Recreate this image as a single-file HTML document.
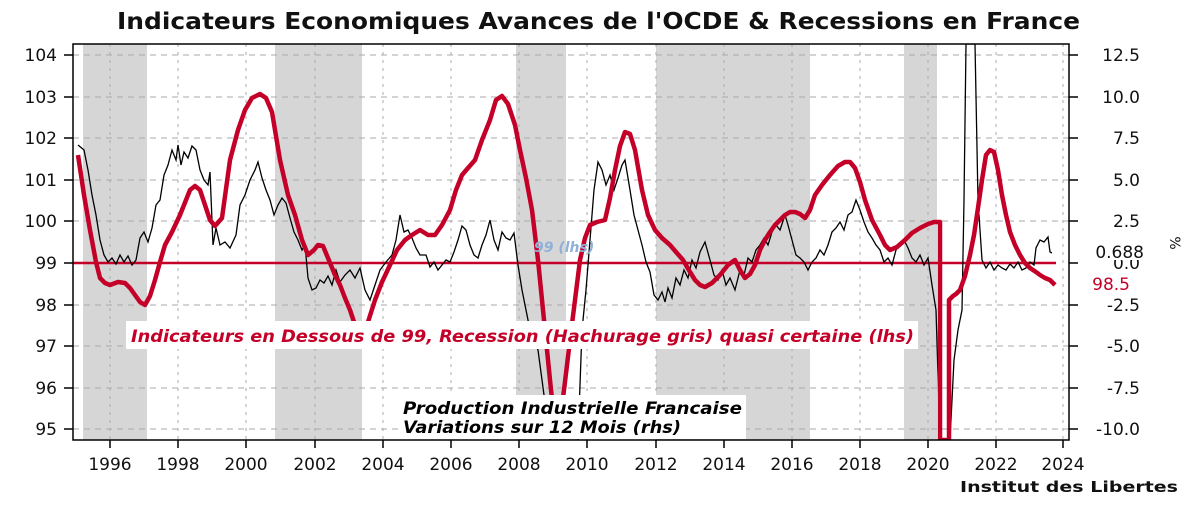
<!DOCTYPE html>
<html><head><meta charset="utf-8"><style>
html,body{margin:0;padding:0;background:#fff;}
svg{display:block;font-family:"DejaVu Sans","Liberation Sans",sans-serif;}
</style></head><body>
<svg width="1200" height="508" viewBox="0 0 1200 508" xmlns="http://www.w3.org/2000/svg">
<rect width="1200" height="508" fill="#fff"/>
<text x="117" y="29" textLength="963" lengthAdjust="spacingAndGlyphs" font-size="23" font-weight="bold" fill="#111">Indicateurs Economiques Avances de l'OCDE &amp; Recessions en France</text>
<!-- bands -->
<g fill="#d6d6d6">
<rect x="83" y="44" width="64" height="396"/>
<rect x="275" y="44" width="87" height="396"/>
<rect x="516" y="44" width="50" height="396"/>
<rect x="656" y="44" width="154" height="396"/>
<rect x="904" y="44" width="33" height="396"/>
</g>
<!-- grid -->
<g stroke="#aaa" stroke-width="1" stroke-dasharray="6,5">
<line x1="73" x2="1069" y1="55" y2="55"/><line x1="73" x2="1069" y1="97" y2="97"/>
<line x1="73" x2="1069" y1="138" y2="138"/><line x1="73" x2="1069" y1="180" y2="180"/>
<line x1="73" x2="1069" y1="221" y2="221"/><line x1="73" x2="1069" y1="305" y2="305"/>
<line x1="73" x2="1069" y1="346" y2="346"/><line x1="73" x2="1069" y1="388" y2="388"/>
<line x1="73" x2="1069" y1="429" y2="429"/>
</g>
<g stroke="#aaa" stroke-width="1" stroke-dasharray="3,5">
<line x1="110" x2="110" y1="44" y2="440"/><line x1="178" x2="178" y1="44" y2="440"/>
<line x1="246" x2="246" y1="44" y2="440"/><line x1="315" x2="315" y1="44" y2="440"/>
<line x1="383" x2="383" y1="44" y2="440"/><line x1="451" x2="451" y1="44" y2="440"/>
<line x1="519" x2="519" y1="44" y2="440"/><line x1="587" x2="587" y1="44" y2="440"/>
<line x1="656" x2="656" y1="44" y2="440"/><line x1="724" x2="724" y1="44" y2="440"/>
<line x1="792" x2="792" y1="44" y2="440"/><line x1="860" x2="860" y1="44" y2="440"/>
<line x1="928" x2="928" y1="44" y2="440"/><line x1="996" x2="996" y1="44" y2="440"/>
<line x1="1063" x2="1063" y1="44" y2="440"/>
</g>
<svg x="73" y="44" width="996" height="396" overflow="hidden"><g transform="translate(-73,-44)">
<polyline fill="none" stroke="#c40028" stroke-width="2.5" points="73,263 1056,263"/>
<polyline fill="none" stroke="#000" stroke-width="1.3" points="78,145 84,150 88,170 92,195 96,215 100,240 104,255 108,262 112,258 116,264 120,255 124,262 128,256 132,265 136,260 140,238 144,232 148,242 152,228 156,205 160,200 164,175 168,165 172,150 176,160 178,145 181,165 184,152 188,158 192,146 196,150 200,170 204,180 208,185 210,172 213,245 216,228 220,245 225,242 230,248 236,235 240,205 245,195 250,180 255,170 258,162 262,178 266,190 270,200 274,215 278,205 282,198 286,203 290,218 294,232 298,240 302,250 305,245 308,278 312,290 316,288 320,280 324,283 328,276 332,285 336,270 340,282 345,275 350,270 355,278 360,268 365,290 370,300 374,288 380,270 386,262 392,255 396,240 400,215 404,232 408,230 412,238 416,248 420,255 426,255 430,267 434,262 438,270 442,265 446,260 450,262 454,252 458,240 462,226 466,230 470,245 474,255 478,258 482,245 486,235 490,220 494,240 498,250 502,232 506,238 510,240 514,233 518,265 522,290 526,310 530,330 534,340 538,350 542,380 546,410 550,440 560,440 570,440 578,440 582,330 586,290 590,240 594,190 598,162 602,170 606,185 610,175 614,190 618,178 622,165 625,160 630,190 634,215 638,230 642,245 646,262 650,272 654,295 658,300 662,292 665,302 668,288 672,298 676,278 680,285 684,270 688,278 692,260 696,268 700,252 705,242 710,260 714,275 718,280 722,270 726,285 730,278 735,290 740,270 744,275 748,258 752,262 756,250 760,245 764,238 768,245 772,232 776,225 780,230 785,215 788,225 792,240 796,255 800,258 804,262 808,270 812,262 816,258 820,250 824,255 828,245 832,232 836,228 840,222 844,230 848,215 852,212 856,200 860,210 864,222 868,232 872,238 876,245 880,250 884,262 888,258 892,265 896,250 900,245 904,240 908,248 912,258 916,262 920,255 924,265 928,258 932,285 936,310 940,440 945,440 950,440 954,360 958,330 962,310 964,200 966,44 975,44 978,200 982,260 986,268 990,262 994,270 998,265 1002,268 1006,270 1010,264 1014,268 1018,262 1022,270 1026,268 1030,262 1034,265 1036,248 1040,240 1044,242 1048,237 1050,252 1052,253"/>
<polyline fill="none" stroke="#c40028" stroke-width="4.5" stroke-linejoin="round" points="78,155 84,195 90,230 96,262 100,278 105,283 110,285 118,282 125,283 130,288 135,295 140,302 145,305 150,296 155,280 160,262 165,245 172,232 180,215 186,200 190,190 195,186 200,190 205,205 210,220 215,226 222,218 230,160 238,130 245,110 252,98 260,94 266,98 272,112 280,160 288,195 295,215 302,240 308,255 314,250 318,245 323,246 328,258 335,275 340,285 345,298 350,310 356,328 362,345 368,322 375,300 382,282 390,265 397,250 405,240 412,235 420,230 428,235 435,235 442,225 450,210 456,190 462,175 468,168 475,160 482,140 490,120 496,100 502,96 508,104 515,125 520,150 526,178 532,210 538,260 542,300 547,350 551,390 556,430 560,420 564,390 570,340 575,300 580,260 585,238 590,225 597,222 605,220 610,198 615,170 620,146 625,132 630,134 635,150 642,190 648,215 655,230 662,238 670,245 676,252 683,260 690,272 695,280 700,285 705,287 712,283 720,275 728,265 735,260 740,270 745,278 750,274 755,265 760,250 765,240 770,232 775,225 780,220 785,215 790,212 795,212 800,214 805,218 810,210 815,195 822,185 830,175 838,166 845,162 850,162 855,168 860,182 865,200 872,220 880,235 885,245 890,250 897,247 905,240 912,233 920,228 928,224 934,222 940,222 940,440 949,440 949,300 953,296 956,294 960,290 965,276 970,255 974,235 978,208 982,180 986,155 990,150 994,152 998,170 1002,195 1006,215 1010,232 1015,245 1020,255 1025,263 1030,268 1036,272 1040,275 1045,278 1050,280 1055,285"/>
</g></svg>
<!-- text boxes over lines -->
<rect x="126" y="321" width="792" height="28" fill="#fff"/>
<rect x="398" y="395" width="348" height="44" fill="#fff"/>
<text x="534" y="252" font-size="14" font-style="italic" font-weight="bold" fill="#8fb0d8">99 (lhs)</text>
<text x="131" y="342" textLength="783" lengthAdjust="spacingAndGlyphs" font-size="17" font-style="italic" font-weight="bold" fill="#c40028">Indicateurs en Dessous de 99, Recession (Hachurage gris) quasi certaine (lhs)</text>
<text x="403" y="414" textLength="339" lengthAdjust="spacingAndGlyphs" font-size="17" font-style="italic" font-weight="bold" fill="#000">Production Industrielle Francaise</text>
<text x="403" y="433" textLength="278" lengthAdjust="spacingAndGlyphs" font-size="17" font-style="italic" font-weight="bold" fill="#000">Variations sur 12 Mois (rhs)</text>
<!-- frame -->
<rect x="73" y="44" width="996" height="396" fill="none" stroke="#000" stroke-width="1.5"/>
<g stroke="#000" stroke-width="1.5">
<line x1="64" x2="73" y1="55" y2="55"/><line x1="64" x2="73" y1="97" y2="97"/><line x1="64" x2="73" y1="138" y2="138"/>
<line x1="64" x2="73" y1="180" y2="180"/><line x1="64" x2="73" y1="221" y2="221"/><line x1="64" x2="73" y1="263" y2="263"/>
<line x1="64" x2="73" y1="305" y2="305"/><line x1="64" x2="73" y1="346" y2="346"/><line x1="64" x2="73" y1="388" y2="388"/>
<line x1="64" x2="73" y1="429" y2="429"/>
<line x1="1069" x2="1078" y1="55" y2="55"/><line x1="1069" x2="1078" y1="97" y2="97"/><line x1="1069" x2="1078" y1="138" y2="138"/>
<line x1="1069" x2="1078" y1="180" y2="180"/><line x1="1069" x2="1078" y1="221" y2="221"/><line x1="1069" x2="1078" y1="263" y2="263"/>
<line x1="1069" x2="1078" y1="305" y2="305"/><line x1="1069" x2="1078" y1="346" y2="346"/><line x1="1069" x2="1078" y1="388" y2="388"/>
<line x1="1069" x2="1078" y1="429" y2="429"/>
<line x1="110" x2="110" y1="440" y2="448"/><line x1="178" x2="178" y1="440" y2="448"/><line x1="246" x2="246" y1="440" y2="448"/>
<line x1="315" x2="315" y1="440" y2="448"/><line x1="383" x2="383" y1="440" y2="448"/><line x1="451" x2="451" y1="440" y2="448"/>
<line x1="519" x2="519" y1="440" y2="448"/><line x1="587" x2="587" y1="440" y2="448"/><line x1="656" x2="656" y1="440" y2="448"/>
<line x1="724" x2="724" y1="440" y2="448"/><line x1="792" x2="792" y1="440" y2="448"/><line x1="860" x2="860" y1="440" y2="448"/>
<line x1="928" x2="928" y1="440" y2="448"/><line x1="996" x2="996" y1="440" y2="448"/><line x1="1063" x2="1063" y1="440" y2="448"/>
</g>
<g font-size="17" fill="#111" text-anchor="end">
<text x="57" y="61">104</text><text x="57" y="103">103</text><text x="57" y="144">102</text><text x="57" y="186">101</text>
<text x="57" y="227">100</text><text x="57" y="269">99</text><text x="57" y="311">98</text><text x="57" y="352">97</text>
<text x="57" y="394">96</text><text x="57" y="435">95</text>
<text x="1140" y="61">12.5</text><text x="1140" y="103">10.0</text><text x="1140" y="144">7.5</text><text x="1140" y="186">5.0</text>
<text x="1140" y="227">2.5</text><text x="1140" y="269">0.0</text><text x="1140" y="311">-2.5</text><text x="1140" y="352">-5.0</text>
<text x="1140" y="394">-7.5</text><text x="1140" y="435">-10.0</text>
</g>
<rect x="1085" y="244" width="60" height="16" fill="#fff"/>
<text x="1144" y="258" font-size="17" text-anchor="end" fill="#111">0.688</text>
<text x="1130" y="290" font-size="17" text-anchor="end" fill="#c40028">98.5</text>
<text transform="translate(1170,243) rotate(90)" font-size="14" text-anchor="middle" fill="#111">%</text>
<g font-size="17" fill="#111" text-anchor="middle">
<text x="110" y="470">1996</text><text x="178" y="470">1998</text><text x="246" y="470">2000</text><text x="315" y="470">2002</text>
<text x="383" y="470">2004</text><text x="451" y="470">2006</text><text x="519" y="470">2008</text><text x="587" y="470">2010</text>
<text x="656" y="470">2012</text><text x="724" y="470">2014</text><text x="792" y="470">2016</text><text x="860" y="470">2018</text>
<text x="928" y="470">2020</text><text x="996" y="470">2022</text><text x="1063" y="470">2024</text>
</g>
<text x="960" y="492" textLength="218" lengthAdjust="spacingAndGlyphs" font-size="15" font-weight="bold" fill="#111">Institut des Libertes</text>
</svg>
</body></html>
